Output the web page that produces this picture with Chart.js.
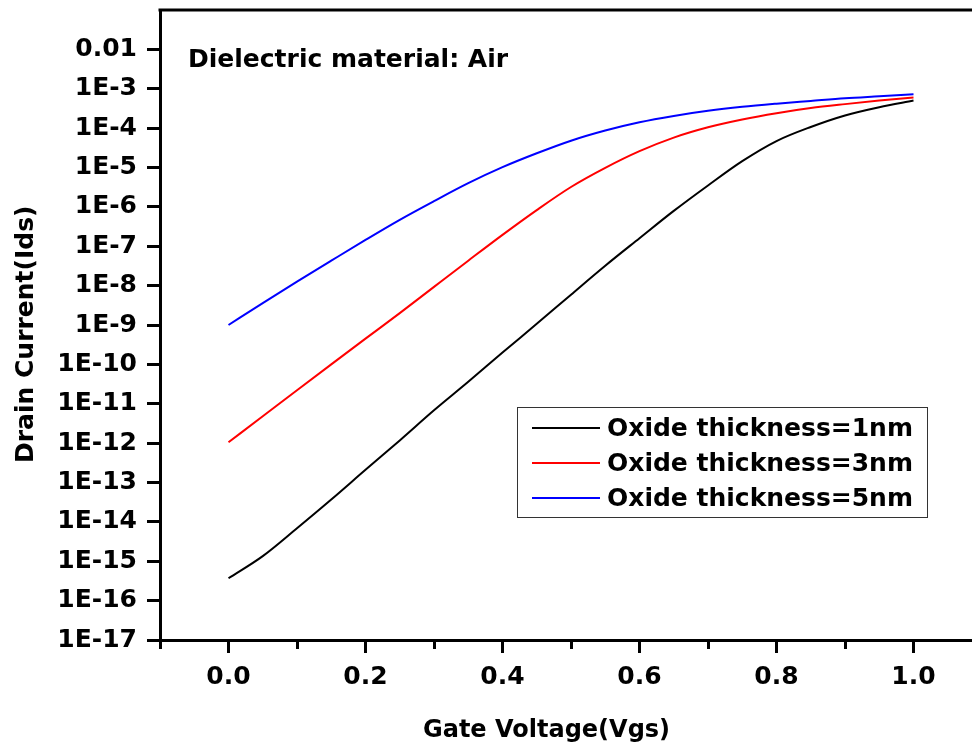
<!DOCTYPE html>
<html>
<head>
<meta charset="utf-8">
<script src="https://cdn.jsdelivr.net/npm/chart.js@4.4.1/dist/chart.umd.min.js"></script>
<style>
  html, body { margin: 0; padding: 0; background: #fff; overflow: hidden; width: 972px; height: 747px; }
  #wrap { width: 1000px; height: 747px; }
</style>
</head>
<body>
<div id="wrap"><canvas id="c" width="1000" height="747"></canvas></div>
<script>
// Gate voltage sweep (V)
const gateVoltage = [0, 0.05, 0.1, 0.15, 0.2, 0.25, 0.3, 0.35, 0.4, 0.45, 0.5,
                     0.55, 0.6, 0.65, 0.7, 0.75, 0.8, 0.85, 0.9, 0.95, 1.0];

// Drain current (A) for each oxide thickness
const ids1nm = [3.7e-16, 1.35e-15, 6.9e-15, 3.7e-14, 2.1e-13, 1.17e-12, 6.8e-12, 3.6e-11,
                2.0e-10, 1.07e-9, 5.9e-9, 3.2e-8, 1.6e-7, 7.9e-7, 3.5e-6, 1.45e-5,
                4.7e-5, 1.07e-4, 2.1e-4, 3.4e-4, 5.0e-4];
const ids3nm = [1.05e-12, 4.8e-12, 2.2e-11, 1.0e-10, 4.5e-10, 2.0e-9, 9.3e-9, 4.3e-8,
                1.95e-7, 8.3e-7, 3.2e-6, 9.8e-6, 2.6e-5, 5.75e-5, 1.05e-4, 1.66e-4,
                2.4e-4, 3.24e-4, 4.07e-4, 5.0e-4, 6.0e-4];
const ids5nm = [1.0e-9, 3.6e-9, 1.26e-8, 4.3e-8, 1.45e-7, 4.7e-7, 1.4e-6, 4.0e-6,
                1.02e-5, 2.3e-5, 4.8e-5, 8.7e-5, 1.41e-4, 2.04e-4, 2.75e-4, 3.47e-4,
                4.17e-4, 4.9e-4, 5.75e-4, 6.45e-4, 7.24e-4];

const seriesLabels = ['Oxide thickness=1nm', 'Oxide thickness=3nm', 'Oxide thickness=5nm'];
const seriesColors = ['#000000', '#ff0000', '#0000ff'];

// Axis ticks
const xMajorTicks = [0, 0.2, 0.4, 0.6, 0.8, 1.0];
const xMinorTicks = [-0.1, 0.1, 0.3, 0.5, 0.7, 0.9, 1.1];
const yTickValues = [1e-17, 1e-16, 1e-15, 1e-14, 1e-13, 1e-12, 1e-11, 1e-10,
                     1e-9, 1e-8, 1e-7, 1e-6, 1e-5, 1e-4, 1e-3, 1e-2];
const yTickLabels = ['1E-17', '1E-16', '1E-15', '1E-14', '1E-13', '1E-12', '1E-11', '1E-10',
                     '1E-9', '1E-8', '1E-7', '1E-6', '1E-5', '1E-4', '1E-3', '0.01'];

const noteText = 'Dielectric material: Air';
const xTitle = 'Gate Voltage(Vgs)';
const yTitle = 'Drain Current(Ids)';

const FONT = '"DejaVu Sans", "Liberation Sans", Arial, sans-serif';

const seriesValues = [ids1nm, ids3nm, ids5nm];
const datasets = seriesValues.map((vals, i) => ({
  label: seriesLabels[i],
  data: gateVoltage.map((v, j) => ({ x: v, y: vals[j] })),
  borderColor: seriesColors[i],
  backgroundColor: seriesColors[i],
  borderWidth: 2,
  pointRadius: 0,
  cubicInterpolationMode: 'monotone',
  fill: false
}));

// Frame, minor ticks, annotation text, legend box and axis titles
const decorPlugin = {
  id: 'decor',
  afterDraw(chart) {
    const ctx = chart.ctx;
    const a = chart.chartArea;
    const xs = chart.scales.x;
    ctx.save();
    ctx.strokeStyle = '#000';
    ctx.lineWidth = 3;
    ctx.beginPath();
    ctx.moveTo(a.left - 1.5, a.top);
    ctx.lineTo(a.right, a.top);
    ctx.lineTo(a.right, a.bottom);
    ctx.stroke();

    // minor ticks on the x axis
    ctx.beginPath();
    xMinorTicks.forEach(v => {
      const px = Math.round(xs.getPixelForValue(v)) + 0.5;
      ctx.moveTo(px, a.bottom);
      ctx.lineTo(px, a.bottom + 9);
    });
    ctx.stroke();

    ctx.fillStyle = '#000';
    ctx.textBaseline = 'alphabetic';
    ctx.textAlign = 'left';
    ctx.font = 'bold 25px ' + FONT;
    ctx.fillText(noteText, 188, 67);

    // legend
    const lx = 517, ly = 407, lw = 410, lh = 110;
    ctx.lineWidth = 1;
    ctx.strokeStyle = '#333';
    ctx.strokeRect(lx + 0.5, ly + 0.5, lw, lh);
    ctx.font = 'bold 25px ' + FONT;
    ctx.textBaseline = 'middle';
    chart.data.datasets.forEach((ds, i) => {
      const y = 428 + i * 35;
      ctx.strokeStyle = ds.borderColor;
      ctx.lineWidth = 2;
      ctx.beginPath();
      ctx.moveTo(532, y);
      ctx.lineTo(600, y);
      ctx.stroke();
      ctx.fillStyle = '#000';
      ctx.fillText(ds.label, 607, y + 1);
    });

    // axis titles
    ctx.font = 'bold 24px ' + FONT;
    ctx.textBaseline = 'alphabetic';
    ctx.fillText(xTitle, 423, 737);
    ctx.save();
    ctx.translate(33, 463);
    ctx.rotate(-Math.PI / 2);
    ctx.font = 'bold 25px ' + FONT;
    ctx.fillText(yTitle, 0, 0);
    ctx.restore();
    ctx.restore();
  }
};

new Chart(document.getElementById('c'), {
  type: 'line',
  data: { datasets },
  options: {
    responsive: false,
    animation: false,
    devicePixelRatio: 1,
    layout: { padding: { left: 0, top: 10, right: 18, bottom: 0 } },
    plugins: { legend: { display: false }, tooltip: { enabled: false } },
    scales: {
      x: {
        type: 'linear',
        min: -0.1,
        max: 1.1,
        afterBuildTicks: s => { s.ticks = xMajorTicks.map(v => ({ value: v })); },
        afterFit: s => { s.height = 107; s.paddingLeft = 0; s.paddingRight = 0; },
        border: { display: true, width: 3, color: '#000' },
        grid: { drawOnChartArea: false, drawTicks: true, tickLength: 13, tickWidth: 3, tickColor: '#000' },
        ticks: {
          autoSkip: false,
          maxRotation: 0,
          padding: 9,
          color: '#000',
          font: { family: FONT, size: 25, weight: 'bold' },
          callback: v => Number(v).toFixed(1)
        }
      },
      y: {
        type: 'logarithmic',
        min: 1e-17,
        max: 1e-1,
        afterBuildTicks: s => { s.ticks = yTickValues.map(v => ({ value: v })); },
        afterFit: s => { s.width = 160; s.paddingTop = 0; s.paddingBottom = 0; },
        border: { display: true, width: 3, color: '#000' },
        grid: { drawOnChartArea: false, drawTicks: true, tickLength: 13, tickWidth: 3, tickColor: '#000' },
        ticks: {
          autoSkip: false,
          padding: 10,
          color: '#000',
          font: { family: FONT, size: 25, weight: 'bold' },
          callback: (v, i) => yTickLabels[i]
        }
      }
    }
  },
  plugins: [decorPlugin]
});
</script>
</body>
</html>
